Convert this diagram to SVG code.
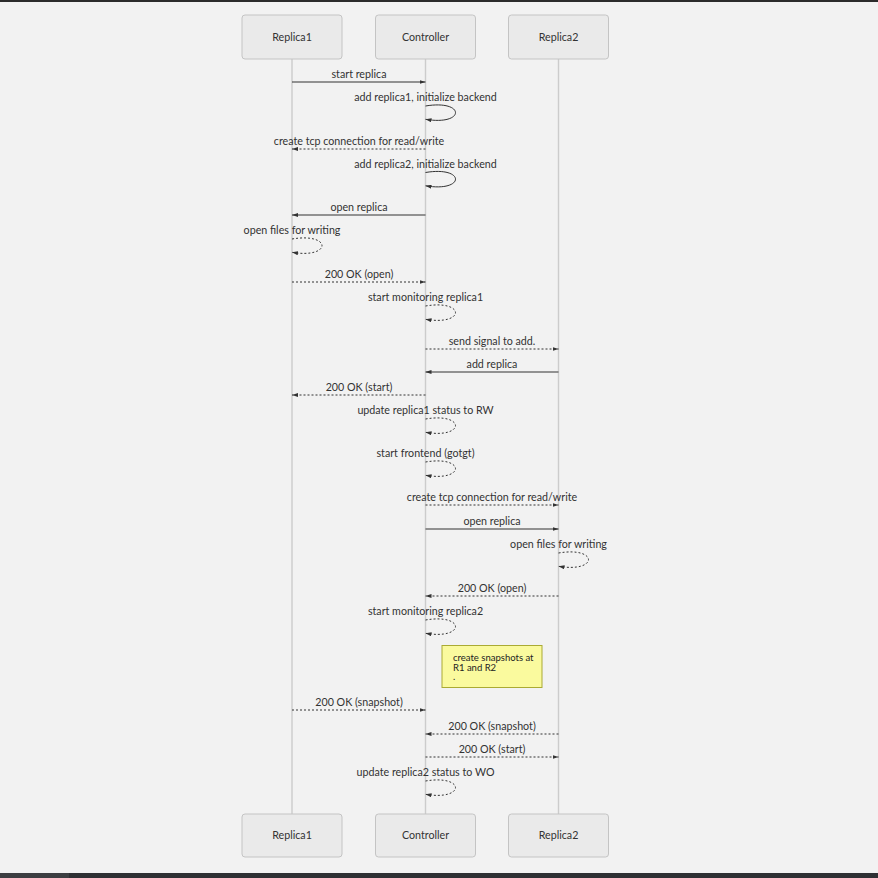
<svg xmlns="http://www.w3.org/2000/svg" width="878" height="878" viewBox="0 0 878 878">
<style>
text{font-family:Lato,"Open Sans","Liberation Sans",sans-serif;font-size:10.7px;fill:#333;text-anchor:middle}
.actor{fill:#eaeaea;stroke:#c4c4c4;stroke-width:1}
.life{stroke:#cccccc;stroke-width:1.4}
.msg{stroke:#333;stroke-width:1;fill:none;marker-end:url(#arr)}
.dash{stroke-dasharray:2,2}
.note{fill:#fafa9e;stroke:#aaaa33;stroke-width:1}
.nt{font-size:9.5px;text-anchor:start;fill:#222}
</style>
<defs>
<marker id="arr" viewBox="0 0 6 4" refX="6" refY="2" markerWidth="6" markerHeight="4" markerUnits="userSpaceOnUse" orient="auto">
<path d="M0,0 L6,2 L0,4 z" fill="#333"/>
</marker>
</defs>
<rect width="878" height="878" fill="#f2f2f2"/>
<rect x="0" y="0" width="878" height="2" fill="#2b2b2b"/>
<rect x="0" y="873" width="878" height="5" fill="#2e3033"/>
<rect x="0" y="873" width="69" height="5" fill="#3c3e41"/>

<g id="lifelines">
<line class="life" x1="292" y1="59" x2="292" y2="814"/>
<line class="life" x1="425.5" y1="59" x2="425.5" y2="814"/>
<line class="life" x1="558.5" y1="59" x2="558.5" y2="814"/>
</g>

<g id="replica1-top"><rect class="actor" x="242" y="15" width="100" height="44" rx="3"/><text x="292" y="41">Replica1</text></g>
<g id="controller-top"><rect class="actor" x="375.5" y="15" width="100" height="44" rx="3"/><text x="425.5" y="41">Controller</text></g>
<g id="replica2-top"><rect class="actor" x="508.5" y="15" width="100" height="44" rx="3"/><text x="558.5" y="41">Replica2</text></g>
<g id="replica1-bottom"><rect class="actor" x="242" y="814" width="100" height="43" rx="3"/><text x="292" y="839">Replica1</text></g>
<g id="controller-bottom"><rect class="actor" x="375.5" y="814" width="100" height="43" rx="3"/><text x="425.5" y="839">Controller</text></g>
<g id="replica2-bottom"><rect class="actor" x="508.5" y="814" width="100" height="43" rx="3"/><text x="558.5" y="839">Replica2</text></g>

<g id="note"><rect class="note" x="442" y="645.5" width="100" height="42"/>
<text class="nt" x="453" y="661">create snapshots at</text>
<text class="nt" x="453" y="670.5">R1 and R2</text>
<text class="nt" x="453" y="680">.</text></g>

<g id="connectors">
<text x="359" y="78">start replica</text>
<line class="msg" x1="292" y1="82" x2="425.5" y2="82"/>
<text x="425.5" y="101">add replica1, initialize backend</text>
<path class="msg" d="M425.5,106 C465.5,99.3 465.5,126 425.5,119.3"/>
<text x="359" y="145">create tcp connection for read/write</text>
<line class="msg dash" x1="425.5" y1="149" x2="292" y2="149"/>
<text x="425.5" y="167.5">add replica2, initialize backend</text>
<path class="msg" d="M425.5,172.5 C465.5,165.8 465.5,192.5 425.5,185.8"/>
<text x="359" y="211">open replica</text>
<line class="msg" x1="425.5" y1="215" x2="292" y2="215"/>
<text x="292" y="234">open files for writing</text>
<path class="msg dash" d="M292,239 C332,232.3 332,259 292,252.3"/>
<text x="359" y="278">200 OK (open)</text>
<line class="msg dash" x1="292" y1="282" x2="425.5" y2="282"/>
<text x="425.5" y="301">start monitoring replica1</text>
<path class="msg dash" d="M425.5,306 C465.5,299.3 465.5,326 425.5,319.3"/>
<text x="492" y="345">send signal to add.</text>
<line class="msg dash" x1="425.5" y1="349" x2="558.5" y2="349"/>
<text x="492" y="368">add replica</text>
<line class="msg" x1="558.5" y1="372" x2="425.5" y2="372"/>
<text x="359" y="391">200 OK (start)</text>
<line class="msg dash" x1="425.5" y1="395" x2="292" y2="395"/>
<text x="425.5" y="414">update replica1 status to RW</text>
<path class="msg dash" d="M425.5,419 C465.5,412.3 465.5,439 425.5,432.3"/>
<text x="425.5" y="457">start frontend (gotgt)</text>
<path class="msg dash" d="M425.5,462 C465.5,455.3 465.5,482 425.5,475.3"/>
<text x="492" y="501">create tcp connection for read/write</text>
<line class="msg dash" x1="425.5" y1="505" x2="558.5" y2="505"/>
<text x="492" y="525">open replica</text>
<line class="msg" x1="425.5" y1="529" x2="558.5" y2="529"/>
<text x="558.5" y="548">open files for writing</text>
<path class="msg dash" d="M558.5,553 C598.5,546.3 598.5,573 558.5,566.3"/>
<text x="492" y="592">200 OK (open)</text>
<line class="msg dash" x1="558.5" y1="596" x2="425.5" y2="596"/>
<text x="425.5" y="615">start monitoring replica2</text>
<path class="msg dash" d="M425.5,620 C465.5,613.3 465.5,640 425.5,633.3"/>
<text x="359" y="706">200 OK (snapshot)</text>
<line class="msg dash" x1="292" y1="710" x2="425.5" y2="710"/>
<text x="492" y="730">200 OK (snapshot)</text>
<line class="msg dash" x1="558.5" y1="734" x2="425.5" y2="734"/>
<text x="492" y="753">200 OK (start)</text>
<line class="msg dash" x1="425.5" y1="757" x2="558.5" y2="757"/>
<text x="425.5" y="776">update replica2 status to WO</text>
<path class="msg dash" d="M425.5,781 C465.5,774.3 465.5,801 425.5,794.3"/>
</g>
</svg>
